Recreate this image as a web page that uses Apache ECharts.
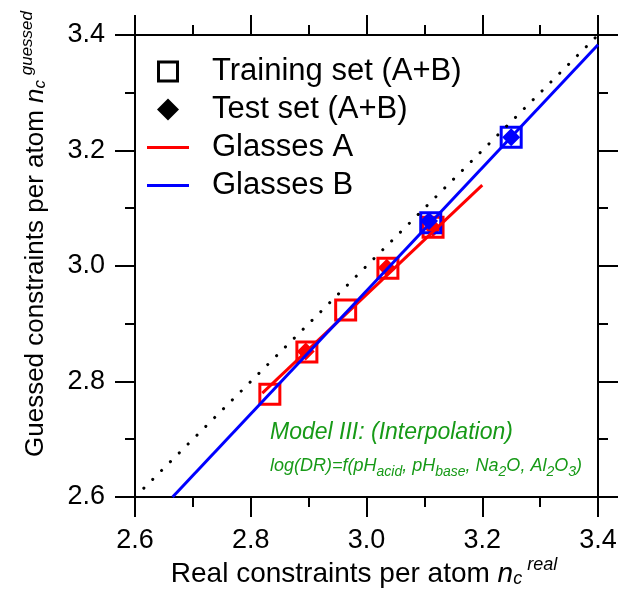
<!DOCTYPE html>
<html><head><meta charset="utf-8">
<script src="https://cdn.jsdelivr.net/npm/echarts@6/dist/echarts.min.js"></script>
<style>html,body{margin:0;padding:0;background:#fff}#c{width:621px;height:602px}</style>
</head><body><div id="c"></div>
<script>
// ---- data ----
const axisMin = 2.6, axisMax = 3.4, axisStep = 0.2;
const trainA = [[2.833, 2.778], [2.897, 2.851], [2.964, 2.924], [3.037, 2.996], [3.115, 3.067]];
const trainB = [[3.111, 3.075], [3.250, 3.223]];
const testA = [[2.895, 2.852], [3.035, 2.997], [3.115, 3.066]];
const testB = [[3.108, 3.078], [3.250, 3.223]];
const fitA = [[2.82, 2.780], [3.20, 3.140]];
const fitB = [[2.665, 2.600], [3.40, 3.383]];
const identity = [[2.6, 2.6], [3.4, 3.4]];
const legendNames = ['Training set (A+B)', 'Test set (A+B)', 'Glasses A', 'Glasses B'];

const FF = '"Liberation Sans", Arial, Helvetica, sans-serif';
const RED = '#ff0000', BLUE = '#0000ff', GREEN = '#179a17';

function axisCfg(pos, showLabel, isX) {
  return {
    type: 'value', position: pos, min: axisMin, max: axisMax, interval: axisStep,
    axisLine: { show: true, onZero: false, lineStyle: { color: '#000', width: 2 } },
    axisTick: { show: true, length: 20, lineStyle: { color: '#000', width: 2 } },
    minorTick: { show: true, splitNumber: 2, length: 10, lineStyle: { color: '#000', width: 2 } },
    splitLine: { show: false }, minorSplitLine: { show: false },
    axisLabel: { show: showLabel, formatter: v => v.toFixed(1), fontSize: 27, color: '#000', fontFamily: FF,
      margin: 30, showMinLabel: true, showMaxLabel: true, hideOverlap: false }
  };
}

const chart = echarts.init(document.getElementById('c'), null, { renderer: 'canvas' });
chart.setOption({
  animation: false,
  backgroundColor: '#fff',
  grid: { left: 135, right: 23, top: 35, bottom: 105, containLabel: false },
  xAxis: [axisCfg('bottom', true, true), axisCfg('top', false, true)],
  yAxis: [axisCfg('left', true, false), axisCfg('right', false, false)],
  legend: {
    orient: 'vertical', left: 147, top: 55, padding: 0, itemGap: 5,
    itemWidth: 42, itemHeight: 22, symbolKeepAspect: true, selectedMode: false,
    textStyle: { fontSize: 31, fontFamily: FF, color: '#000', lineHeight: 33, padding: [0, 0, 0, 18] },
    data: [
      { name: legendNames[0], icon: 'path://M0,0H22V22H0Z M3,3V19H19V3Z', itemStyle: { color: '#000', opacity: 1 } },
      { name: legendNames[1], icon: 'path://M8,0L16,8L8,16L0,8Z', itemStyle: { color: '#000', opacity: 1 } },
      { name: legendNames[2], icon: 'path://M0,0H42V3H0Z', itemStyle: { color: RED, opacity: 1 } },
      { name: legendNames[3], icon: 'path://M0,0H42V3H0Z', itemStyle: { color: BLUE, opacity: 1 } }
    ]
  },
  series: [
    { type: 'line', name: 'y=x', data: identity, symbol: 'none', silent: true,
      lineStyle: { color: '#000', width: 3, type: [0.1, 12.4], cap: 'round' } },
    { type: 'line', name: legendNames[2], data: fitA, symbol: 'none', color: RED,
      lineStyle: { color: RED, width: 3 } },
    { type: 'line', name: legendNames[3], data: fitB, symbol: 'none', color: BLUE,
      lineStyle: { color: BLUE, width: 3 } },
    { type: 'scatter', name: legendNames[0], data: [], itemStyle: { color: '#000', opacity: 1 } },
    { type: 'scatter', name: legendNames[1], data: [], itemStyle: { color: '#000', opacity: 1 } },
    { type: 'scatter', name: 'trainA', data: trainA, symbol: 'rect', symbolSize: 20,
      itemStyle: { color: 'rgba(0,0,0,0)', borderColor: RED, borderWidth: 3, opacity: 1 } },
    { type: 'scatter', name: 'testA', data: testA, symbol: 'diamond', symbolSize: 18,
      itemStyle: { color: RED, opacity: 1 } },
    { type: 'scatter', name: 'trainB', data: trainB, symbol: 'rect', symbolSize: 20,
      itemStyle: { color: 'rgba(0,0,0,0)', borderColor: BLUE, borderWidth: 3, opacity: 1 } },
    { type: 'scatter', name: 'testB', data: testB, symbol: 'diamond', symbolSize: 18,
      itemStyle: { color: BLUE, opacity: 1 } }
  ],
  graphic: [
    { type: 'text', x: 364, y: 556, silent: true,
      style: { text: '{m|Real constraints per atom }{i|n}{sub|c}{sup| real}', verticalAlign: 'top', align: 'center',
        rich: {
          m: { fontSize: 28, fontFamily: FF, fill: '#000', lineHeight: 32, verticalAlign: 'bottom' },
          i: { fontSize: 28, fontFamily: FF, fontStyle: 'italic', fill: '#000', lineHeight: 32, verticalAlign: 'bottom' },
          sub: { fontSize: 18, fontFamily: FF, fontStyle: 'italic', fill: '#000', lineHeight: 12, verticalAlign: 'bottom' },
          sup: { fontSize: 18, fontFamily: FF, fontStyle: 'italic', fill: '#000', lineHeight: 18, verticalAlign: 'top' }
        } } },
    { type: 'text', x: 34, y: 234, rotation: Math.PI / 2, silent: true,
      style: { text: '{m|Guessed constraints per atom }{i|n}{sub|c}{sup| guessed}', verticalAlign: 'middle', align: 'center',
        rich: {
          m: { fontSize: 26, fontFamily: FF, fill: '#000', lineHeight: 30, verticalAlign: 'bottom' },
          i: { fontSize: 26, fontFamily: FF, fontStyle: 'italic', fill: '#000', lineHeight: 30, verticalAlign: 'bottom' },
          sub: { fontSize: 17, fontFamily: FF, fontStyle: 'italic', fill: '#000', lineHeight: 12, verticalAlign: 'bottom' },
          sup: { fontSize: 17, fontFamily: FF, fontStyle: 'italic', fill: '#000', lineHeight: 18, verticalAlign: 'top' }
        } } },
    { type: 'text', x: 270, y: 421, silent: true,
      style: { text: 'Model III: (Interpolation)', fontSize: 23, fontStyle: 'italic', fontFamily: FF, fill: GREEN } },
    { type: 'text', x: 270, y: 457, silent: true,
      style: { text: '{t|log(DR)=f(pH}{s|acid}{t|, pH}{s|base}{t|, Na}{s|2}{t|O, Al}{s|2}{t|O}{s|3}{t|)}',
        rich: {
          t: { fontSize: 18, fontStyle: 'italic', fontFamily: FF, fill: GREEN, lineHeight: 22, verticalAlign: 'top' },
          s: { fontSize: 14, fontStyle: 'italic', fontFamily: FF, fill: GREEN, lineHeight: 10, verticalAlign: 'bottom' }
        } } }
  ]
});
</script>
</body></html>
